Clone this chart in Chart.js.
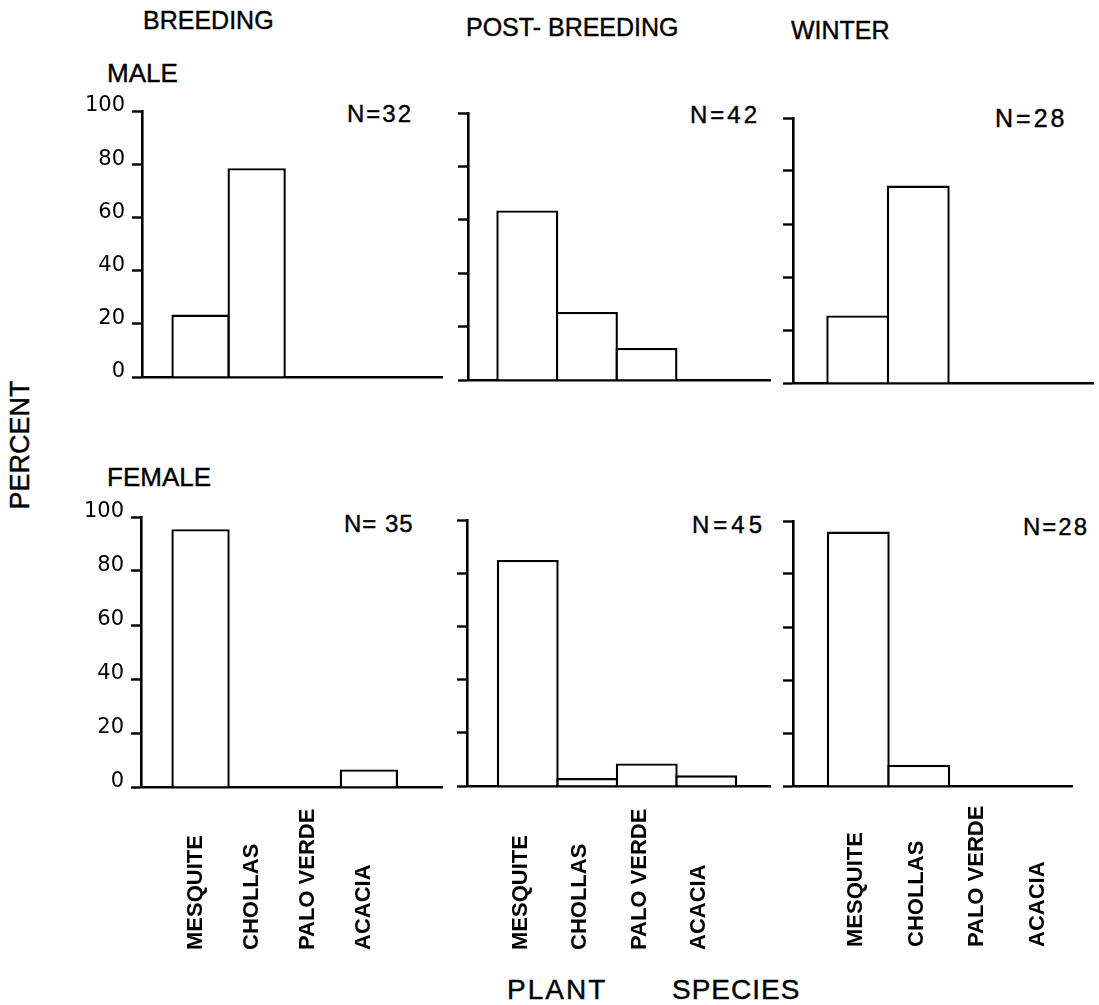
<!DOCTYPE html>
<html><head><meta charset="utf-8">
<script src="https://cdn.jsdelivr.net/npm/chart.js"></script>
<style>
html,body{margin:0;padding:0;background:#fff;}
#page{position:relative;width:1099px;height:1005px;overflow:hidden;background:#fff;font-family:'Liberation Sans',Arial,sans-serif;color:#000;}
#page canvas{position:absolute;}
.t{position:absolute;white-space:nowrap;line-height:1;color:#000;-webkit-text-stroke:0.4px #000;}
</style></head><body><div id="page"></div>
<script>
// ---- data ----
const categories = ['MESQUITE', 'CHOLLAS', 'PALO VERDE', 'ACACIA'];
const seasons = ['BREEDING', 'POST- BREEDING', 'WINTER'];
const sexes = ['MALE', 'FEMALE'];
const yTicks = [0, 20, 40, 60, 80, 100];
const maleBreeding   = [23.5, 78.5, 0, 0];
const malePost       = [63.5, 25.5, 12, 0];
const maleWinter     = [25.5, 74.5, 0, 0];
const femaleBreeding = [95.5, 0, 0, 6.5];
const femalePost     = [85, 3, 8.5, 4];
const femaleWinter   = [96, 8, 0, 0];
const sampleSizes = ['N=32', 'N=42', 'N=28', 'N= 35', 'N=45', 'N=28'];
const yAxisTitle = 'PERCENT';
const xAxisTitleWords = ['PLANT', 'SPECIES'];

// ---- layout (page pixels) ----
const panels = [
  {vals: maleBreeding,   L:142, R:442,  T:111, B:377, s:172.5, w:56.1, yLabels:true,  below:false},
  {vals: malePost,       L:468, R:770,  T:113, B:380, s:497.5, w:59.6, yLabels:false, below:false},
  {vals: maleWinter,     L:793, R:1093, T:118, B:383, s:827.5, w:60.5, yLabels:false, below:false},
  {vals: femaleBreeding, L:141, R:442,  T:517, B:787, s:172.5, w:56.1, yLabels:true,  below:true, dx:-5, lb:950},
  {vals: femalePost,     L:467, R:770,  T:520, B:786, s:498,   w:59.5, yLabels:false, below:true, dx:-7, lb:950},
  {vals: femaleWinter,   L:793, R:1072, T:521, B:786, s:828,   w:60.5, yLabels:false, below:true, dx:-2, lb:947}
];
const nPos = [
  {x:347, b:122, f:24, ls:2}, {x:690, b:123, f:24, ls:3}, {x:995, b:127, f:25, ls:3},
  {x:344, b:532, f:24, ls:1}, {x:692, b:533, f:24, ls:4}, {x:1023, b:535, f:24, ls:2}
];

const page = document.getElementById('page');
function addText(text, x, baseline, size, ls) {
  const d = document.createElement('div');
  d.className = 't';
  d.textContent = text;
  d.style.left = x + 'px';
  d.style.top = (baseline - 0.8465 * size) + 'px';
  d.style.fontSize = size + 'px';
  if (ls) d.style.letterSpacing = ls + 'px';
  page.appendChild(d);
  return d;
}

addText(seasons[0], 143, 29, 25);
addText(seasons[1], 466, 36, 25);
addText(seasons[2], 791, 39, 25);
addText(sexes[0], 107, 82, 26);
addText(sexes[1], 107, 486, 26);
sampleSizes.forEach((n, i) => addText(n, nPos[i].x, nPos[i].b, nPos[i].f, nPos[i].ls));
addText(xAxisTitleWords[0], 507, 1000, 28, 2);
addText(xAxisTitleWords[1], 672, 1000, 28, 1);
const pc = addText(yAxisTitle, 20, 445, 27);
pc.style.top = '445px';
pc.style.transform = 'translate(-50%,-50%) rotate(-90deg)';

const catLabelPlugin = {
  id: 'catLabels',
  afterDraw(chart, args, opts) {
    if (!opts.show) return;
    const ctx = chart.ctx, xs = chart.scales.x;
    ctx.save();
    ctx.font = 'bold 22px "Liberation Sans", Arial, sans-serif';
    ctx.fillStyle = '#000';
    ctx.textAlign = 'left';
    ctx.textBaseline = 'middle';
    categories.forEach((lab, i) => {
      const px = xs.getPixelForValue(i) + opts.dx;
      ctx.save();
      ctx.translate(px, opts.baseY);
      ctx.rotate(-Math.PI / 2);
      ctx.fillText(lab, 0, 0);
      ctx.restore();
    });
    ctx.restore();
  }
};

panels.forEach((p) => {
  const Wy = 90, padT = 30, padR = 12;
  const padB = p.below ? 190 : 30;
  const W = Wy + (p.R - p.L) + padR;
  const H = padT + (p.B - p.T) + padB;
  const cv = document.createElement('canvas');
  cv.width = W; cv.height = H;
  cv.style.width = W + 'px'; cv.style.height = H + 'px';
  cv.style.left = (p.L - Wy) + 'px';
  cv.style.top = (p.T - padT) + 'px';
  page.appendChild(cv);
  const xMin = (p.L - p.s) / p.w - 0.5;
  const xMax = (p.R - p.s) / p.w - 0.5;
  new Chart(cv, {
    type: 'bar',
    data: {
      datasets: [{
        data: p.vals.map((v, i) => ({x: i, y: v})),
        backgroundColor: '#fff',
        borderColor: '#000',
        borderWidth: 2.4,
        borderSkipped: 'start',
        barPercentage: 1.04,
        categoryPercentage: 1
      }]
    },
    options: {
      responsive: false,
      animation: false,
      events: [],
      devicePixelRatio: 1,
      layout: {padding: {top: padT, right: padR, bottom: padB, left: 0}},
      plugins: {
        legend: {display: false},
        tooltip: {enabled: false},
        catLabels: {show: p.below, dx: p.dx || 0, baseY: (p.lb || 0) - (p.T - padT)}
      },
      scales: {
        x: {
          type: 'linear', min: xMin, max: xMax, offset: false,
          grid: {display: false, offset: false},
          border: {display: true, color: '#000', width: 2.6},
          ticks: {display: false, stepSize: 1, includeBounds: false},
          afterFit(s) { s.height = 0; }
        },
        y: {
          min: 0, max: 100,
          grid: {drawOnChartArea: false, drawTicks: true, tickLength: 10, tickWidth: 2.4, tickColor: '#000'},
          border: {display: true, color: '#000', width: 2.6},
          afterBuildTicks(s) { s.ticks = yTicks.map(v => ({value: v})); },
          ticks: {display: p.yLabels, color: '#000', font: {family: 'DejaVu Sans', size: 21}, padding: 7, labelOffset: -5},
          afterFit(s) { s.width = Wy; }
        }
      }
    },
    plugins: [catLabelPlugin]
  });
});
</script>
</body></html>
